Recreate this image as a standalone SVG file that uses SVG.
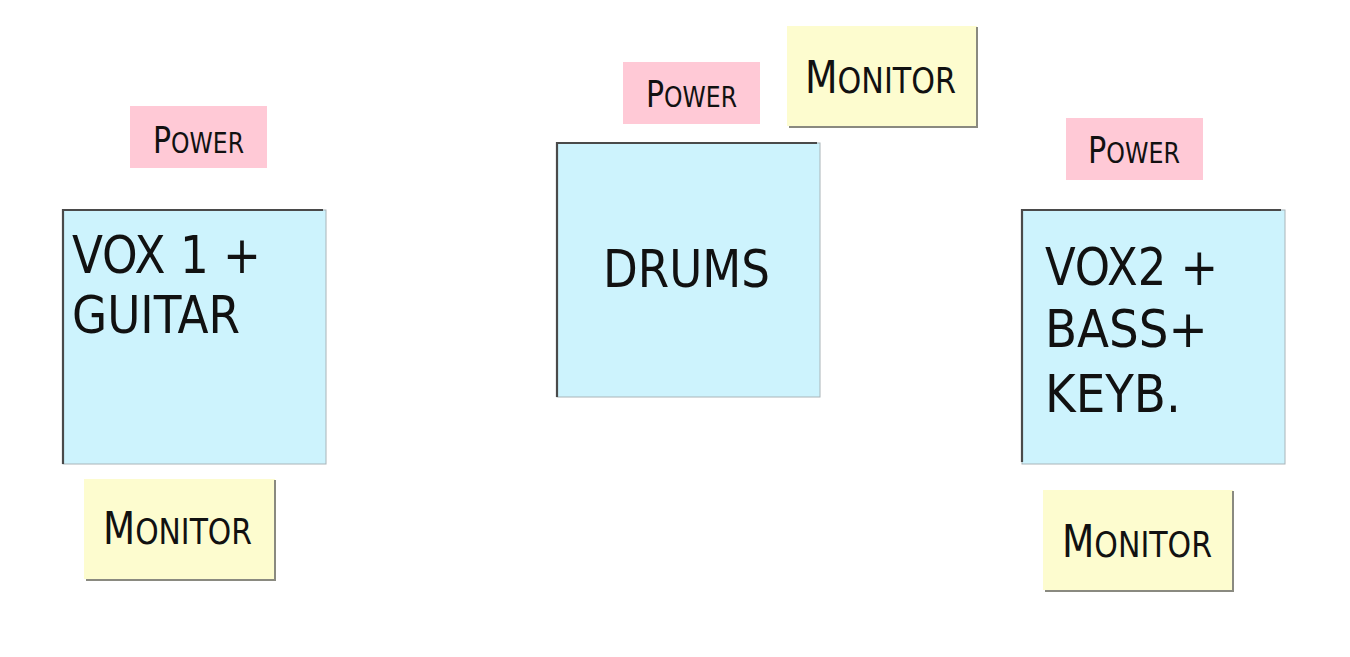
<svg xmlns="http://www.w3.org/2000/svg" width="1350" height="657" viewBox="0 0 1350 657">
<style>
.stage{fill:#cdf3fd;stroke:#a9b4b8;stroke-width:1}
.edge{fill:none;stroke:#4a4a4a;stroke-width:2.2}
.power{fill:#ffc9d6}
.mon{fill:#fdfccf}
.mshadow{fill:none;stroke:#8a8a80;stroke-width:2}
.big{font-family:"DejaVu Sans Condensed","DejaVu Sans",sans-serif;font-size:52px;fill:#111}
.lab{font-family:"DejaVu Sans Condensed","DejaVu Sans",sans-serif;text-transform:uppercase;fill:#111}
.pw{font-size:37px}
.pw .s{font-size:29px}
.mn{font-size:45px}
.mn .s{font-size:36px}
</style>
<rect width="1350" height="657" fill="#ffffff"/>
<g id="stage-left">
<rect class="stage" x="63" y="210" width="263" height="254"/>
<path class="edge" d="M63,464 V210 H323"/>
<text class="big" x="72" y="273" textLength="189" lengthAdjust="spacingAndGlyphs">VOX 1 +</text>
<text class="big" x="72" y="333" textLength="168" lengthAdjust="spacingAndGlyphs">GUITAR</text>
</g>
<g id="power-left">
<rect class="power" x="130" y="106" width="137" height="62"/>
<text class="lab pw" x="153" y="153" textLength="91" lengthAdjust="spacingAndGlyphs">P<tspan class="s">ower</tspan></text>
</g>
<g id="monitor-left">
<rect class="mon" x="84" y="479" width="191" height="100"/>
<path class="mshadow" d="M275,480 V580 H86"/>
<text class="lab mn" x="103" y="544" textLength="149" lengthAdjust="spacingAndGlyphs">M<tspan class="s">onitor</tspan></text>
</g>
<g id="stage-drums">
<rect class="stage" x="557" y="143" width="263" height="254"/>
<path class="edge" d="M557,397 V143 H817"/>
<text class="big" x="603" y="287" textLength="167" lengthAdjust="spacingAndGlyphs">DRUMS</text>
</g>
<g id="power-mid">
<rect class="power" x="623" y="62" width="137" height="62"/>
<text class="lab pw" x="646" y="107" textLength="91" lengthAdjust="spacingAndGlyphs">P<tspan class="s">ower</tspan></text>
</g>
<g id="monitor-top">
<rect class="mon" x="787" y="26" width="190" height="100"/>
<path class="mshadow" d="M977,27 V127 H789"/>
<text class="lab mn" x="805" y="93" textLength="151" lengthAdjust="spacingAndGlyphs">M<tspan class="s">onitor</tspan></text>
</g>
<g id="stage-right">
<rect class="stage" x="1022" y="210" width="263" height="254"/>
<path class="edge" d="M1022,462 V210 H1281"/>
<text class="big" x="1045" y="285" textLength="173" lengthAdjust="spacingAndGlyphs">VOX2 +</text>
<text class="big" x="1045" y="347">BASS+</text>
<text class="big" x="1045" y="412">KEYB.</text>
</g>
<g id="power-right">
<rect class="power" x="1066" y="118" width="137" height="62"/>
<text class="lab pw" x="1088" y="163" textLength="92" lengthAdjust="spacingAndGlyphs">P<tspan class="s">ower</tspan></text>
</g>
<g id="monitor-right">
<rect class="mon" x="1043" y="490" width="190" height="100"/>
<path class="mshadow" d="M1233,491 V591 H1045"/>
<text class="lab mn" x="1062" y="557" textLength="150" lengthAdjust="spacingAndGlyphs">M<tspan class="s">onitor</tspan></text>
</g>
<g id="connectors"></g>
</svg>
